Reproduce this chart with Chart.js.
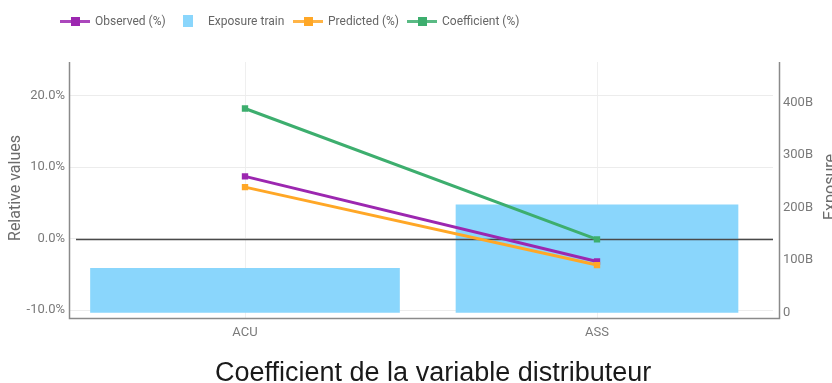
<!DOCTYPE html>
<html>
<head>
<meta charset="utf-8">
<script src="https://cdn.jsdelivr.net/npm/chart.js@4.4.1/dist/chart.umd.min.js"></script>
<style>
  html, body { margin: 0; padding: 0; background: #fff; overflow: hidden; }
  #wrap { position: relative; width: 832px; height: 383px; }
  #chart { position: absolute; left: 0; top: 0; }
  #legend { position: absolute; left: 0; top: 0; width: 832px; height: 40px;
            font: 12px Roboto, sans-serif; color: #666; }
  .item { position: absolute; top: 14px; height: 14px; display: flex; align-items: center; white-space: nowrap; }
  .lineIcon { position: relative; width: 30px; height: 14px; margin-right: 5px; }
  .lineIcon .ln { position: absolute; left: 0; top: 5.5px; width: 30px; height: 3px; opacity: 0.85; }
  .lineIcon .sq { position: absolute; left: 10.5px; top: 2.5px; width: 9px; height: 9px; }
  .boxIcon { width: 10px; height: 12px; margin-right: 15px; }
  #title { position: absolute; left: 215px; top: 357px; line-height: 27px;
           font: 27px "Liberation Sans", Arial, sans-serif; color: #1a1a1a; white-space: nowrap; }
</style>
</head>
<body>
<div id="wrap">
  <canvas id="chart" width="832" height="383"></canvas>
  <div id="legend"></div>
  <div id="title">Coefficient de la variable distributeur</div>
</div>
<script>
// Distributor categories and their relative values (%)
const categories = ['ACU', 'ASS'];
const observed = [8.7, -3.2];
const predicted = [7.2, -3.7];
const coefficient = [18.2, -0.1];
// Exposure on the training set, in billions
const exposure = [84, 205];

const relativeTicks = [-10, 0, 10, 20];
const exposureTicks = [0, 100, 200, 300, 400];

const COLORS = {
  observed: '#9c27b0',
  predicted: '#ffa726',
  coefficient: '#3dae6e',
  exposure: '#8ad6fc'
};

Chart.defaults.font.family = 'Roboto, sans-serif';
Chart.defaults.color = '#777';

function lineDataset(label, data, color, order) {
  return {
    type: 'line', label, data, order,
    yAxisID: 'y',
    borderColor: color, backgroundColor: color,
    borderWidth: 3,
    pointStyle: 'rect', pointRadius: 4.5,
    pointBorderWidth: 0,
    tension: 0
  };
}

// One bar dataset per category so each band can have its own width
function exposureDataset(index, thickness) {
  return {
    type: 'bar', label: 'Exposure train',
    data: exposure.map((v, i) => (i === index ? v : null)),
    yAxisID: 'y1',
    backgroundColor: COLORS.exposure,
    borderWidth: 0,
    barThickness: thickness,
    grouped: false,
    order: 10
  };
}

// Zero reference line, drawn above the bars but under the lines
let zeroDrawn = false;
const zeroLine = {
  id: 'zeroLine',
  beforeDatasetsDraw() { zeroDrawn = false; },
  beforeDatasetDraw(chart, args) {
    if (zeroDrawn || args.meta.type !== 'line') return;
    zeroDrawn = true;
    const { ctx, chartArea } = chart;
    const y = Math.round(chart.scales.y.getPixelForValue(0)) + 0.5;
    ctx.save();
    ctx.strokeStyle = '#4a4a4a';
    ctx.lineWidth = 1.3;
    ctx.beginPath();
    ctx.moveTo(chartArea.left + 7, y);
    ctx.lineTo(chartArea.right, y);
    ctx.stroke();
    ctx.restore();
  }
};

// Axis frame and axis titles
const frame = {
  id: 'frame',
  afterDraw(chart) {
    const { ctx, chartArea } = chart;
    const l = chartArea.left + 0.5, r = chartArea.right + 6.5;
    const t = chartArea.top, b = chartArea.bottom + 0.5;
    ctx.save();
    ctx.strokeStyle = '#8a8a8a';
    ctx.lineWidth = 1.5;
    ctx.beginPath();
    ctx.moveTo(l, t); ctx.lineTo(l, b); ctx.lineTo(r, b); ctx.lineTo(r, t);
    ctx.stroke();

    ctx.fillStyle = '#6b6b6b';
    ctx.font = '16px Roboto, sans-serif';
    ctx.textAlign = 'center';
    ctx.textBaseline = 'middle';
    const mid = (chartArea.top + chartArea.bottom) / 2;
    ctx.translate(15.5, mid - 2);
    ctx.rotate(-Math.PI / 2);
    ctx.fillText('Relative values', 0, 0);
    ctx.setTransform(1, 0, 0, 1, 0, 0);
    ctx.translate(830.5, mid - 3);
    ctx.rotate(-Math.PI / 2);
    ctx.fillText('Exposure', 0, 0);
    ctx.restore();
  }
};

const chart = new Chart(document.getElementById('chart'), {
  data: {
    labels: categories,
    datasets: [
      lineDataset('Observed (%)', observed, COLORS.observed, 2),
      exposureDataset(0, 309),
      lineDataset('Predicted (%)', predicted, COLORS.predicted, 1),
      lineDataset('Coefficient (%)', coefficient, COLORS.coefficient, 3),
      exposureDataset(1, 282)
    ]
  },
  options: {
    responsive: false,
    animation: false,
    devicePixelRatio: 1,
    layout: { padding: { top: 62, left: 0, right: 0, bottom: 0 } },
    plugins: { legend: { display: false }, tooltip: { enabled: false }, title: { display: false } },
    scales: {
      x: {
        type: 'category',
        offset: true,
        grid: { offset: false, color: '#efefef', lineWidth: 1, drawTicks: false },
        border: { display: false },
        ticks: { padding: 7, font: { size: 13 }, color: '#7a7a7a' },
        afterFit(s) { s.height = 65; }
      },
      y: {
        position: 'left',
        min: -11.1, max: 24.7,
        afterBuildTicks(s) { s.ticks = relativeTicks.map(v => ({ value: v })); },
        grid: { color: '#ececec', lineWidth: 1, drawTicks: false },
        border: { display: false },
        ticks: { padding: 4, font: { size: 13 }, color: '#7a7a7a',
                 callback: v => v.toFixed(1) + '%' },
        afterFit(s) { s.width = 69; }
      },
      y1: {
        position: 'right',
        min: -10.5, max: 477,
        afterBuildTicks(s) { s.ticks = exposureTicks.map(v => ({ value: v })); },
        grid: { display: false, drawTicks: false },
        border: { display: false },
        ticks: { padding: 10, font: { size: 13 }, color: '#7a7a7a',
                 callback: v => (v === 0 ? '0' : v + 'B') },
        afterFit(s) { s.width = 59; }
      }
    }
  },
  plugins: [zeroLine, frame]
});

// Legend built from the datasets (one entry per label)
const legendPositions = [60, 183, 293, 407];
const legend = document.getElementById('legend');
const seen = new Set();
chart.data.datasets.forEach(ds => {
  if (seen.has(ds.label)) return;
  const idx = seen.size;
  seen.add(ds.label);
  const item = document.createElement('div');
  item.className = 'item';
  item.style.left = legendPositions[idx] + 'px';
  if (ds.type === 'line') {
    const icon = document.createElement('div');
    icon.className = 'lineIcon';
    icon.innerHTML = '<div class="ln" style="background:' + ds.borderColor + '"></div>' +
                     '<div class="sq" style="background:' + ds.borderColor + '"></div>';
    item.appendChild(icon);
  } else {
    const icon = document.createElement('div');
    icon.className = 'boxIcon';
    icon.style.background = ds.backgroundColor;
    item.appendChild(icon);
  }
  const txt = document.createElement('span');
  txt.textContent = ds.label;
  item.appendChild(txt);
  legend.appendChild(item);
});
</script>
</body>
</html>
